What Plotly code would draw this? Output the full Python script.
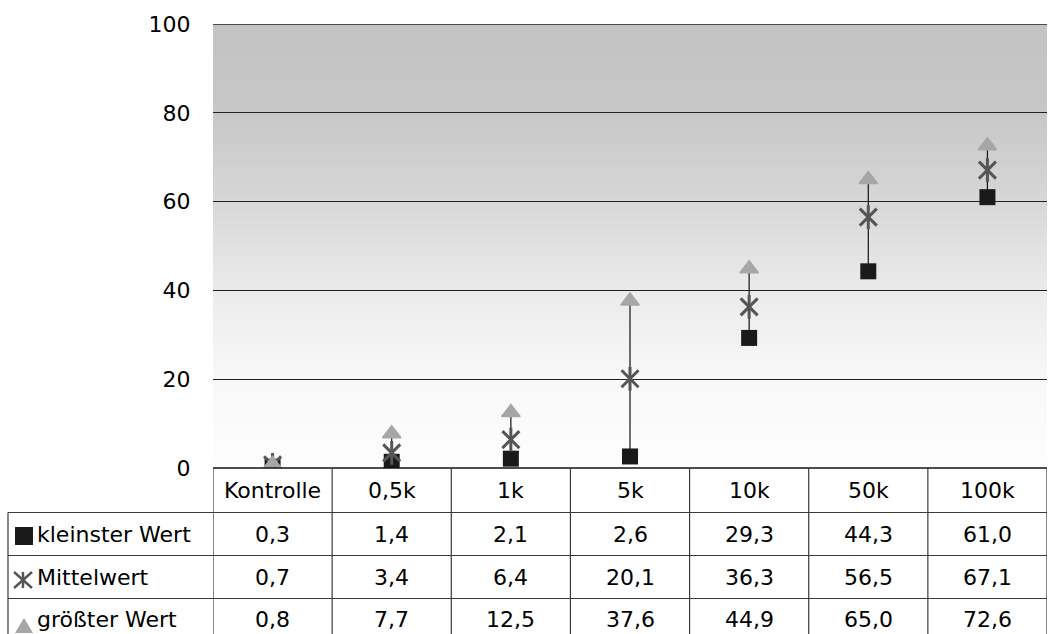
import plotly.graph_objects as go

categories = ["Kontrolle", "0,5k", "1k", "5k", "10k", "50k", "100k"]
kleinster = [0.3, 1.4, 2.1, 2.6, 29.3, 44.3, 61.0]
mittel = [0.7, 3.4, 6.4, 20.1, 36.3, 56.5, 67.1]
groesster = [0.8, 7.7, 12.5, 37.6, 44.9, 65.0, 72.6]
series_names = ["kleinster Wert", "Mittelwert", "größter Wert"]
y_ticks = [0, 20, 40, 60, 80, 100]

W, H = 1061, 634
L, R, T, B = 213, 14, 24, 166
PW, PH = W - L - R, H - T - B
FONT = "DejaVu Sans"
FS = 22

def px(x):
    return (x - L) / PW

def py(y):
    return (H - B - y) / PH

fig = go.Figure()

# high-low lines
lx, ly = [], []
for c, lo, hi in zip(categories, kleinster, groesster):
    lx += [c, c, None]
    ly += [lo, hi, None]
fig.add_trace(go.Scatter(x=lx, y=ly, mode="lines", line=dict(color="#111111", width=1.2),
                         hoverinfo="skip", showlegend=False))
fig.add_trace(go.Scatter(x=categories, y=kleinster, mode="markers", name=series_names[0],
                         marker=dict(symbol="square", size=16, color="#1a1a1a", line=dict(width=0)),
                         showlegend=False))
fig.add_trace(go.Scatter(x=categories, y=mittel, mode="markers", name=series_names[1],
                         marker=dict(symbol="x-thin-open", size=17, color="#555555",
                                     line=dict(width=3, color="#555555")),
                         showlegend=False))
fig.add_trace(go.Scatter(x=categories, y=mittel, mode="markers", name=series_names[1],
                         marker=dict(symbol="line-ns-open", size=17, color="#555555",
                                     line=dict(width=3, color="#555555")),
                         showlegend=False, hoverinfo="skip"))
fig.add_trace(go.Scatter(x=categories, y=groesster, mode="markers", name=series_names[2],
                         marker=dict(symbol="triangle-up", size=16, color="#a6a6a6",
                                     line=dict(width=1.5, color="#a6a6a6")),
                         showlegend=False))

shapes = []
# gradient background (stacked rectangles, each reaching the top, so no seams)
stops = [(0, 253), (20, 248), (40, 235), (60, 215), (80, 199), (100, 195)]
def shade(v):
    for (a, ca), (b, cb) in zip(stops[:-1], stops[1:]):
        if a <= v <= b:
            return ca + (cb - ca) * (v - a) / (b - a)
    return stops[-1][1]
step = 1
for i in range(0, 100, step):
    g = int(round(shade(i + step / 2)))
    shapes.append(dict(type="rect", xref="paper", yref="y", x0=0, x1=1, y0=i, y1=100,
                       fillcolor=f"rgb({g},{g},{g})", line=dict(width=0), layer="below"))
# top gridline
shapes.append(dict(type="line", xref="paper", yref="y", x0=0, x1=1, y0=y_ticks[-1], y1=y_ticks[-1],
                   line=dict(color="#222222", width=1.3)))

# table
border = dict(color="#3a3a3a", width=1.2)
row_px = [468, 512.5, 555.5, 598.5, 642]
left_px = 8
shapes.append(dict(type="line", xref="paper", yref="paper", x0=0, x1=1, y0=0, y1=0,
                   line=dict(color="#111111", width=1.3)))
for r in row_px[1:4]:
    shapes.append(dict(type="line", xref="paper", yref="paper", x0=px(left_px), x1=1,
                       y0=py(r), y1=py(r), line=border))
for k in range(len(categories) + 1):
    shapes.append(dict(type="line", xref="x", yref="paper", x0=k - 0.5, x1=k - 0.5,
                       y0=0, y1=py(row_px[-1]), line=border))
shapes.append(dict(type="line", xref="paper", yref="paper", x0=px(left_px), x1=px(left_px),
                   y0=py(row_px[1]), y1=py(row_px[-1]), line=border))

# legend keys
sq_c = (24, 536)
shapes.append(dict(type="rect", xref="paper", yref="paper",
                   x0=px(sq_c[0] - 9), x1=px(sq_c[0] + 9), y0=py(sq_c[1] - 9), y1=py(sq_c[1] + 9),
                   fillcolor="#1a1a1a", line=dict(width=0)))
ax, ay = 23, 580
for (x0, y0, x1, y1) in [(-9, -8, 9, 8), (-9, 8, 9, -8), (0, -8, 0, 8)]:
    shapes.append(dict(type="line", xref="paper", yref="paper",
                       x0=px(ax + x0), y0=py(ay + y0), x1=px(ax + x1), y1=py(ay + y1),
                       line=dict(color="#555555", width=2.5)))
tx, ty = 24, 626
shapes.append(dict(type="path", xref="paper", yref="paper",
                   path=f"M {px(tx-9)} {py(ty+7)} L {px(tx+9)} {py(ty+7)} L {px(tx)} {py(ty-8)} Z",
                   fillcolor="#a6a6a6", line=dict(width=0)))

annotations = []
row_centers = [(row_px[i] + row_px[i + 1]) / 2 for i in range(4)]
row_centers[3] = 619
for i, c in enumerate(categories):
    annotations.append(dict(x=i, y=py(row_centers[0]), xref="x", yref="paper", text=c,
                            showarrow=False, xanchor="center", yanchor="middle",
                            font=dict(family=FONT, size=FS, color="black")))
for r, vals in enumerate([kleinster, mittel, groesster]):
    for i, v in enumerate(vals):
        annotations.append(dict(x=i, y=py(row_centers[r + 1]), xref="x", yref="paper",
                                text=f"{v:.1f}".replace(".", ","), showarrow=False,
                                xanchor="center", yanchor="middle",
                                font=dict(family=FONT, size=FS, color="black")))
    annotations.append(dict(x=px(35), y=py(row_centers[r + 1]), xref="paper", yref="paper",
                            text=series_names[r], showarrow=False, xanchor="left", yanchor="middle",
                            font=dict(family=FONT, size=FS, color="black")))

fig.update_layout(
    width=W, height=H,
    margin=dict(l=L, r=R, t=T, b=B, pad=0),
    paper_bgcolor="white", plot_bgcolor="white",
    shapes=shapes, annotations=annotations,
    font=dict(family=FONT, size=FS, color="black"),
    xaxis=dict(type="category", categoryarray=categories, range=[-0.5, len(categories) - 0.5],
               showgrid=False, showticklabels=False, ticks="", zeroline=False, showline=False),
    yaxis=dict(range=[0, 100], tickvals=y_ticks, showgrid=True, gridcolor="#222222", gridwidth=1,
               zeroline=False, showline=False, ticks="outside", ticklen=17,
               tickcolor="rgba(0,0,0,0)", tickfont=dict(family=FONT, size=FS, color="black")),
    hovermode=False,
)

fig.write_html("out.html", config={"displayModeBar": False, "staticPlot": True},
               post_script="document.body.style.margin='0';document.body.style.padding='0';document.body.style.overflow='hidden';")
